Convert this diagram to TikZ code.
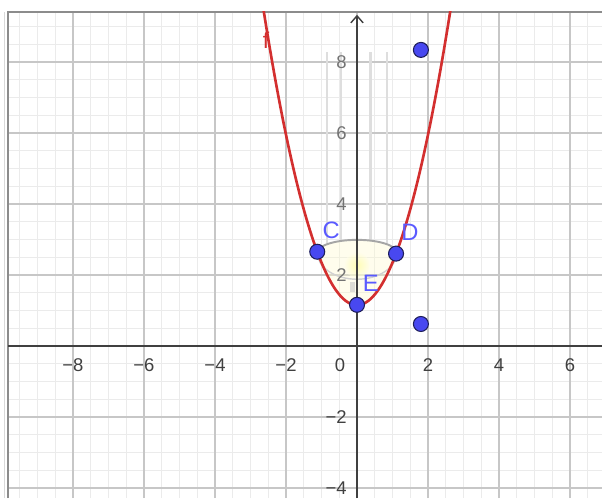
\documentclass[tikz,border=0pt]{standalone}
\usepackage{fontspec}
\setmainfont{Liberation Sans}
\usetikzlibrary{arrows.meta}
\definecolor{ggred}{RGB}{211,47,47}
\definecolor{ggpoint}{RGB}{72,72,240}
\definecolor{ggedge}{RGB}{30,30,90}
\definecolor{gglabel}{RGB}{90,90,255}
\definecolor{ggaxis}{RGB}{64,64,64}
\begin{document}
\begin{tikzpicture}[x=0.71cm,y=0.71cm,
  minor/.style={draw=black!8, line width=0.5pt},
  major/.style={draw=black!22, line width=0.7pt},
  axis/.style={draw=ggaxis, line width=0.8pt},
  tick/.style={font=\fontsize{10.5}{11}\selectfont, text=black!75, inner sep=0pt},
  pt/.style={circle, fill=ggpoint, draw=ggedge, line width=0.6pt, minimum size=0.3cm, inner sep=0pt},
  lbl/.style={text=gglabel, font=\fontsize{13.5}{14}\selectfont, inner sep=0pt},
  stripe/.style={draw=black!13, line width=1.4pt},
  bowl/.style={draw=black!35, line width=1.1pt}]
\useasboundingbox (-10.056,-4.282) rectangle (6.901,9.746);
\fill[white] (-10.056,-4.282) rectangle (6.901,9.746);
% grid
\draw[minor] (-9.83,-4.282) grid[step=0.5] (6.901,9.41);
\draw[major] (-9.83,-4.282) grid[step=2] (6.901,9.41);
\draw[black!15, line width=0.6pt] (-9.94,-4.282) -- (-9.94,9.41);
\draw[black!45, line width=1pt] (-9.83,-4.282) -- (-9.83,9.41) -- (6.901,9.41);
% faint stripes and bowl
\draw[stripe] (-0.85,8.28) -- (-0.85,2.9);
\draw[stripe] (-0.45,8.28) -- (-0.45,2.95);
\draw[stripe] (0.38,8.28) -- (0.38,2.95);
\draw[stripe] (0.84,8.28) -- (0.84,2.9);
\fill[yellow!20, opacity=0.35] (-1.12,2.63) arc[start angle=180, end angle=0, x radius=1.12, y radius=0.36]
  -- plot[domain=1.1:-1.12, samples=30, smooth] (\x,{1.2*\x*\x+1.15}) -- cycle;
\shade[inner color=yellow!55, outer color=yellow!8, opacity=0.45] (0,2.28) circle[radius=0.36];
\fill[black!25, opacity=0.5] (-0.2,1.52) rectangle (-0.06,1.8);
\draw[black!18, line width=0.8pt] (-1.12,2.63) arc[start angle=180, end angle=360, x radius=1.12, y radius=0.75];
\draw[bowl] (-1.12,2.63) arc[start angle=180, end angle=0, x radius=1.12, y radius=0.36];
% axes
\coordinate (xl) at (-9.83,0);
\coordinate (xr) at (6.901,0);
\coordinate (yb) at (0,-4.282);
\coordinate (yt) at (0,9.33);
\draw[axis] (xl) -- (xr);
\draw[axis, -{Straight Barb[length=4pt,width=7pt]}] (yb) -- (yt);
\node[tick] (xm8) at (-8,-0.54) {−8};
\node[tick] (xm6) at (-6,-0.54) {−6};
\node[tick] (xm4) at (-4,-0.54) {−4};
\node[tick] (xm2) at (-2,-0.54) {−2};
\node[tick] (x0) at (-0.48,-0.54) {0};
\node[tick] (x2) at (2,-0.54) {2};
\node[tick] (x4) at (4,-0.54) {4};
\node[tick] (x6) at (6,-0.54) {6};
\node[tick, anchor=east, text=black!55] (y8) at (-0.28,8) {8};
\node[tick, anchor=east, text=black!55] (y6) at (-0.28,6) {6};
\node[tick, anchor=east, text=black!55] (y4) at (-0.28,4) {4};
\node[tick, anchor=east, text=black!55] (y2) at (-0.28,2) {2};
\node[tick, anchor=east] (ym2) at (-0.28,-2) {−2};
\node[tick, anchor=east] (ym4) at (-0.28,-4) {−4};
% function f
\begin{scope}
\clip (-9.83,-4.282) rectangle (6.901,9.41);
\draw[ggred, line width=1.5pt] plot[domain=-2.75:2.75, samples=80, smooth] (\x,{1.2*\x*\x+1.15});
\end{scope}
\node[text=ggred, font=\fontsize{13}{14}\selectfont, inner sep=0pt] (flab) at (-2.56,8.62) {f};
% points
\node[pt] (C) at (-1.12,2.655) {};
\node[pt] (D) at (1.1,2.602) {};
\node[pt] (E) at (0,1.16) {};
\node[pt] (P) at (1.8,8.34) {};
\node[pt] (Q) at (1.8,0.62) {};
\node[lbl] (Clab) at (-0.73,3.27) {C};
\node[lbl] (Dlab) at (1.49,3.21) {D};
\node[lbl] (Elab) at (0.39,1.77) {E};
\end{tikzpicture}
\end{document}
